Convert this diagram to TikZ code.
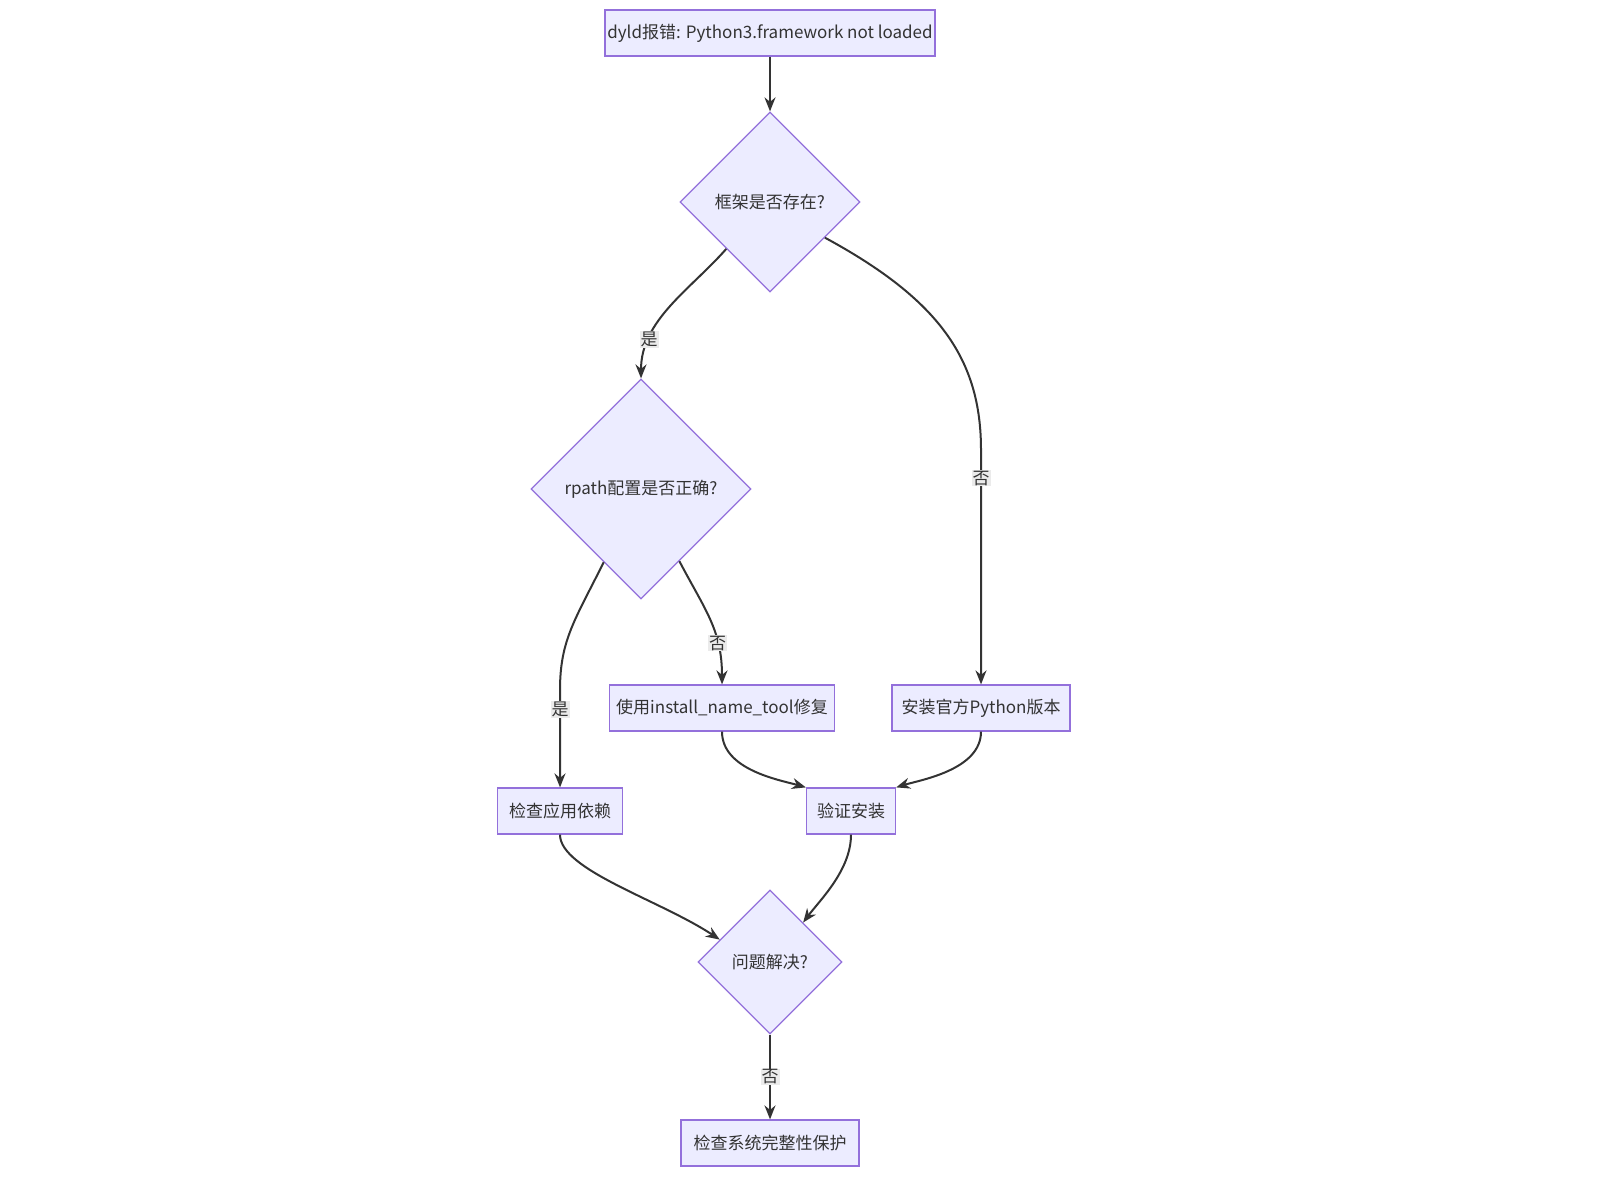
\documentclass[tikz,border=0pt]{standalone}
\usepackage{fontspec}
\setmainfont{Noto Sans CJK SC}
\usetikzlibrary{shapes.geometric,arrows.meta}
\definecolor{nfill}{HTML}{ECECFF}
\definecolor{ndraw}{HTML}{9370DB}
\definecolor{edge}{HTML}{333333}
\begin{document}
\begin{tikzpicture}[x=1pt,y=-1pt,
  box/.style={draw=ndraw,fill=nfill,line width=1.2pt,minimum height=46pt,inner sep=0pt,font=\fontsize{17}{20}\selectfont,text=edge},
  dia/.style={diamond,draw=ndraw,fill=nfill,line width=1.2pt,inner sep=0pt,aspect=1,font=\fontsize{17}{20}\selectfont,text=edge},
  e/.style={draw=edge,line width=2pt,-{Stealth[length=14pt,width=11pt]}},
  lab/.style={fill=black!8,inner sep=1pt,font=\fontsize{17}{20}\selectfont,text=edge}]
\useasboundingbox (0,0) rectangle (1600,1200);
\node[box,minimum width=330pt] (top) at (770,33) {dyld报错: Python3.framework not loaded};
\node[dia,minimum width=180pt,minimum height=180pt] (d1) at (770,202) {框架是否存在?};
\node[dia,minimum width=220pt,minimum height=220pt] (d2) at (641,489) {rpath配置是否正确?};
\node[box,minimum width=225pt] (inst) at (722,708) {使用install\_name\_tool修复};
\node[box,minimum width=178pt] (py) at (981,708) {安装官方Python版本};
\node[box,minimum width=125pt] (chk) at (560,811) {检查应用依赖};
\node[box,minimum width=89pt] (ver) at (851,811) {验证安装};
\node[dia,minimum width=144pt,minimum height=144pt] (d3) at (770,962) {问题解决?};
\node[box,minimum width=178pt] (bot) at (770,1143) {检查系统完整性保护};

\draw[e] (top) -- (d1);
\draw[e] (d1.-133) .. controls (690,290) and (641,320) .. node[lab,pos=0.75]{是} (d2.north);
\draw[e] (d1.-33) .. controls (940,300) and (981,360) .. (981,450) -- node[lab,pos=0.12]{否} (py.north);
\draw[e] (d2.-62) .. controls (705,610) and (722,630) .. node[lab,pos=0.7]{否} (inst.north);
\draw[e] (d2.-117) .. controls (575,620) and (560,640) .. (560,690) -- node[lab,pos=0.2]{是} (chk.north);
\draw[e] (inst.south) .. controls (722,770) and (780,780) .. (ver.north west);
\draw[e] (py.south) .. controls (981,770) and (920,780) .. (ver.north east);
\draw[e] (chk.south) .. controls (560,870) and (660,900) .. (d3.156);
\draw[e] (ver.south) .. controls (851,870) and (820,900) .. (d3.50);
\draw[e] (d3.south) -- node[lab]{否} (bot.north);
\end{tikzpicture}
\end{document}
